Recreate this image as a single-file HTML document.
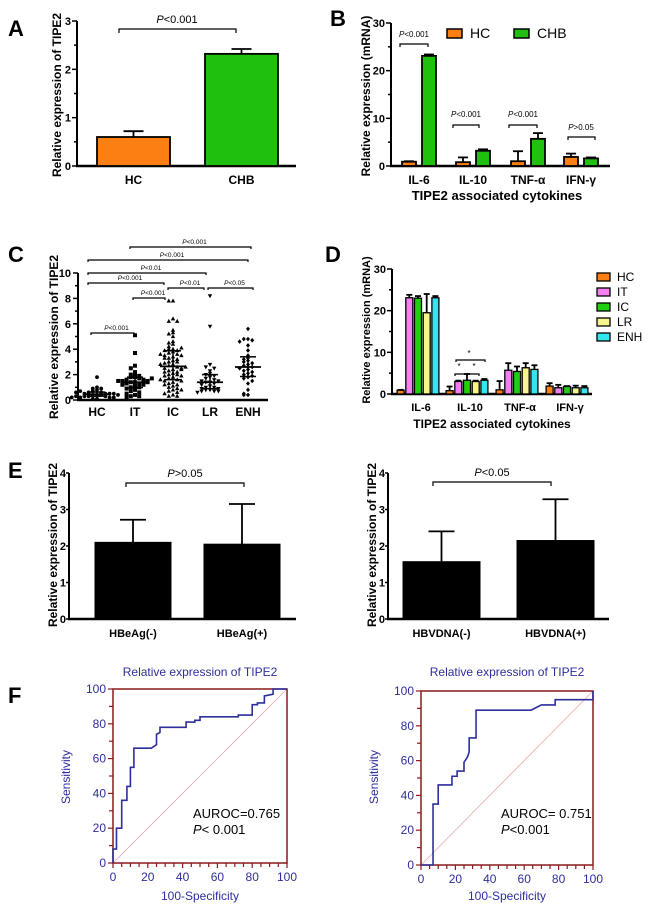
<!DOCTYPE html>
<html><head><meta charset="utf-8"><style>
html,body{margin:0;padding:0;background:#fff;}
svg{display:block;font-family:"Liberation Sans",Arial,sans-serif;}
</style></head><body>
<svg id="fig" width="650" height="908" viewBox="0 0 650 908" xmlns="http://www.w3.org/2000/svg"></svg>
<script>
// ---------- DATA ----------
const aCats = ["HC","CHB"];
const aVals = [0.6, 2.32];
const aErr = [0.72, 2.42];

const bCats = ["IL-6","IL-10","TNF-α","IFN-γ"];
const bHC = [0.9, 0.8, 1.0, 1.9];
const bHCErr = [1.0, 1.8, 3.1, 2.6];
const bCHB = [23.1, 3.2, 5.7, 1.6];
const bCHBErr = [23.4, 3.5, 6.9, 1.8];

const cCats = ["HC","IT","IC","LR","ENH"];
const cHC = [1.8,1.0,0.9,0.8,0.7,0.6,0.6,0.5,0.5,0.5,0.4,0.4,0.4,0.3,0.3,0.3,0.2,0.2,0.2,0.1,0.1,0.7,0.5,0.3,0.6,0.4,0.9,0.2];
const cIT = [5.1,3.7,2.7,2.5,2.0,2.0,1.9,1.8,1.8,1.7,1.6,1.6,1.5,1.5,1.4,1.4,1.3,1.3,1.2,1.2,1.1,1.0,1.0,0.9,0.8,0.7,0.6,0.5,0.4,0.3,0.3,0.2,1.5,1.7,1.4,2.2];
const cIC = [7.8,7.8,6.4,6.2,6.2,5.5,5.3,5.2,5.0,4.6,4.5,4.4,4.2,4.0,4.0,3.9,3.8,3.7,3.6,3.5,3.5,3.4,3.3,3.2,3.1,3.0,3.0,2.9,2.8,2.7,2.6,2.5,2.5,2.4,2.3,2.2,2.2,2.1,2.0,2.0,1.9,1.8,1.7,1.6,1.5,1.5,1.4,1.3,1.2,1.1,1.0,0.9,0.8,0.7,0.6,0.5,0.4,0.3,0.3,3.6,3.3,2.8,2.4,1.9,1.6,1.2,0.8,3.9,4.1,2.6];
const cLR = [8.2,5.8,2.8,2.6,2.5,2.3,2.1,2.0,1.9,1.8,1.7,1.6,1.5,1.5,1.4,1.4,1.3,1.2,1.1,1.0,1.0,0.9,0.9,0.8,0.8,0.7,0.7,0.7,0.6];
const cENH = [5.6,4.8,4.8,4.7,4.6,4.3,3.9,3.5,3.3,3.2,3.1,3.0,2.9,2.8,2.7,2.6,2.5,2.4,2.3,2.2,2.1,2.0,1.9,1.8,1.7,1.5,1.3,0.8,0.5,0.4,0.4];

const dCats = ["IL-6","IL-10","TNF-α","IFN-γ"];
const dSeries = ["HC","IT","IC","LR","ENH"];
const dHC = [0.9, 0.8, 1.0, 1.9];
const dIT = [23.1, 3.0, 5.7, 1.5];
const dIC = [23.0, 3.3, 5.4, 1.8];
const dLR = [19.5, 3.0, 6.3, 1.5];
const dENH = [23.1, 3.3, 5.9, 1.5];
const dHCErr = [1.0, 1.8, 3.1, 2.6];
const dITErr = [23.8, 3.2, 7.4, 2.2];
const dICErr = [23.5, 4.8, 6.6, 1.9];
const dLRErr = [24.0, 3.2, 7.4, 2.0];
const dENHErr = [23.5, 3.6, 6.9, 1.9];

const e1Cats = ["HBeAg(-)","HBeAg(+)"];
const e1Vals = [2.1, 2.05];
const e1Err = [2.72, 3.15];
const e2Cats = ["HBVDNA(-)","HBVDNA(+)"];
const e2Vals = [1.57, 2.15];
const e2Err = [2.4, 3.28];

const roc1X = [0,0,2,2,5,5,8,8,10,10,12,12,22,25,25,27,27,42,42,47,47,50,50,72,72,80,80,83,83,87,87,92,92,100];
const roc1Y = [0,8,8,20,20,36,36,44,44,55,55,66,66,68,74,75,78,78,81,81,82,82,84,84,85,85,91,91,92,92,96,97,100,100];
const roc2X = [0,7,7,10,10,18,18,21,21,25,25,27,28,28,32,32,64,70,78,78,100,100];
const roc2Y = [0,0,35,35,46,46,51,51,54,54,59,62,65,73,73,89,89,92,92,95,95,100];

// ---------- HELPERS ----------
const svg = document.getElementById('fig');
const NS = "http://www.w3.org/2000/svg";
function mk(tag, attrs, name){
  const el = document.createElementNS(NS, tag);
  for (const k in attrs) el.setAttribute(k, attrs[k]);
  
  
  svg.appendChild(el);
  return el;
}
function line(x1,y1,x2,y2,name,w,c){ return mk('line',{x1,y1,x2,y2,stroke:c||'#000','stroke-width':w||2},name); }
function rect(x,y,w,h,fill,name,sw){ return mk('rect',{x,y,width:w,height:h,fill,stroke:'#000','stroke-width':sw||1.8},name); }
function text(x,y,s,name,o){
  o=o||{};
  const t = mk('text',{x,y,'font-size':o.size||12,'font-weight':o.bold?'bold':'normal','text-anchor':o.anchor||'middle',fill:o.fill||'#000','font-style':o.italic?'italic':'normal'},name);
  if(o.rot) t.setAttribute('transform',`rotate(-90 ${x} ${y})`);
  t.textContent = s; return t;
}
function ptext(x,y,rest,name,size){
  const t = mk('text',{x,y,'font-size':size,'text-anchor':'middle'},name);
  const a=document.createElementNS(NS,'tspan'); a.setAttribute('font-style','italic'); a.textContent='P'; t.appendChild(a);
  const b=document.createElementNS(NS,'tspan'); b.textContent=rest; t.appendChild(b);
  return t;
}
function scale(y0,y1,max){ return v => y0 - v/max*(y0-y1); }
function bracket(x1,x2,y,name,drop){ drop=drop||4; mk('path',{d:`M${x1},${y+drop}V${y}H${x2}V${y+drop}`,fill:'none',stroke:'#000','stroke-width':1.2},name); }
function yAxis(x,ys,max,step,minor,xEnd,name,lblOff,tickLen){
  lblOff=lblOff||6; tickLen=tickLen||5;
  line(x,ys(0)+1,x,ys(max),name+'-y-axis',2);
  line(x-1,ys(0),xEnd,ys(0),name+'-x-axis',2.5);
  for(let v=0; v<=max+1e-9; v+=minor){
    const major = Math.abs(v/step-Math.round(v/step))<1e-6;
    line(x-(major?tickLen:tickLen-2),ys(v),x,ys(v),name+'-y-tick',1.5);
    if(major) text(x-lblOff,ys(v)+4,String(Math.round(v)),name+'-y-tick-label',{bold:true,size:11,anchor:'end'});
  }
}
function errBar(cx,yTop,yBar,w,name){ line(cx,yBar,cx,yTop,name,1.8); line(cx-w,yTop,cx+w,yTop,name,1.8); }

// ---------- PANEL A ----------
text(8,36,'A','panel-label-a',{bold:true,size:22,anchor:'start'});
const ya = scale(166,21,3);
yAxis(77,ya,3,1,0.5,296,'a');
const aX=[97,205];
aCats.forEach((c,i)=>{
  errBar(aX[i]+36.5,ya(aErr[i]),ya(aVals[i]),10,'a-error-bar');
  rect(aX[i],ya(aVals[i]),73,ya(0)-ya(aVals[i]),i==0?'#fb7f12':'#20c00e','a-bar-'+c.toLowerCase());
  text(aX[i]+36.5,184,c,'a-x-label',{bold:true,size:12});
});
bracket(119,236,29,'a-sig-bracket',4);
ptext(177,23,'<0.001','a-p-value',11);
text(61,95,'Relative expression of TIPE2','a-y-axis-title',{bold:true,size:12,rot:true});

// ---------- PANEL B ----------
text(330,26,'B','panel-label-b',{bold:true,size:22,anchor:'start'});
const yb = scale(166,23,30);
yAxis(391,yb,30,10,5,610,'b');
const bC=[419,473,528,581];
bCats.forEach((c,i)=>{
  errBar(bC[i]-10,yb(bHCErr[i]),yb(bHC[i]),5,'b-hc-error');
  rect(bC[i]-17,yb(bHC[i]),14,yb(0)-yb(bHC[i]),'#fb7f12','b-bar-hc');
  errBar(bC[i]+10,yb(bCHBErr[i]),yb(bCHB[i]),5,'b-chb-error');
  rect(bC[i]+3,yb(bCHB[i]),14,yb(0)-yb(bCHB[i]),'#20c00e','b-bar-chb');
  text(bC[i],184,c,'b-x-label',{bold:true,size:12});
});
text(497,200,'TIPE2 associated cytokines','b-x-axis-title',{bold:true,size:13});
text(370,96,'Relative expression (mRNA)','b-y-axis-title',{bold:true,size:12,rot:true});
rect(447,29,15,9,'#fb7f12','b-legend-hc-swatch',1.5);
text(470,38,'HC','b-legend-hc-label',{size:14,anchor:'start'});
rect(514,29,15,9,'#20c00e','b-legend-chb-swatch',1.5);
text(537,38,'CHB','b-legend-chb-label',{size:14,anchor:'start'});
bracket(400,428,44,'b-sig-il6',3); ptext(414,37,'<0.001','b-p-il6',8);
bracket(453,479,125,'b-sig-il10',3); ptext(466,117,'<0.001','b-p-il10',8);
bracket(509,537,125,'b-sig-tnf',3); ptext(523,117,'<0.001','b-p-tnf',8);
bracket(568,595,137,'b-sig-ifn',3); ptext(581,130,'>0.05','b-p-ifn',8);

// ---------- PANEL C ----------
text(8,262,'C','panel-label-c',{bold:true,size:22,anchor:'start'});
const yc = scale(400,273,10);
line(78,400,78,273,'c-y-axis',2); line(77,400,268,400,'c-x-axis',2.5);
for(let v=0;v<=10;v++){ const maj=v%2==0; line(maj?73:75,yc(v),78,yc(v),'c-y-tick',1.5); if(maj) text(71,yc(v)+4,String(v),'c-y-tick-label',{bold:true,size:11,anchor:'end'}); }
const cC=[97,135,173,210,248];
const cData=[cHC,cIT,cIC,cLR,cENH];
const cShapes=['circle','square','up','down','diamond'];
function marker(x,y,s,name){
  if(s==='circle') return mk('circle',{cx:x,cy:y,r:1.9,fill:'#000'},name);
  if(s==='square') return mk('rect',{x:x-2,y:y-2,width:4,height:4,fill:'#000'},name);
  if(s==='up') return mk('path',{d:`M${x},${y-2.4}L${x+2.2},${y+1.6}L${x-2.2},${y+1.6}Z`,fill:'#000'},name);
  if(s==='down') return mk('path',{d:`M${x},${y+2.4}L${x+2.2},${y-1.6}L${x-2.2},${y-1.6}Z`,fill:'#000'},name);
  return mk('path',{d:`M${x},${y-2.3}L${x+2},${y}L${x},${y+2.3}L${x-2},${y}Z`,fill:'#000'},name);
}
function quant(sorted,q){ const p=(sorted.length-1)*q, lo=Math.floor(p), hi=Math.ceil(p); return sorted[lo]+(sorted[hi]-sorted[lo])*(p-lo); }
cData.forEach((arr,g)=>{
  const bins={};
  arr.forEach(v=>{
    const b=Math.round(v*3); bins[b]=(bins[b]||0)+1; const k=bins[b]-1;
    const off=(k%2==0?1:-1)*Math.ceil(k/2)*4.2;
    marker(cC[g]+off,yc(v),cShapes[g],'c-point-'+cCats[g].toLowerCase());
  });
  const s=arr.slice().sort((a,b)=>a-b);
  const med=quant(s,0.5), q1=quant(s,0.25), q3=quant(s,0.75);
  line(cC[g]-13,yc(med),cC[g]+13,yc(med),'c-median-line',1.8);
  line(cC[g],yc(q1),cC[g],yc(q3),'c-iqr-line',1.5);
  line(cC[g]-8,yc(q3),cC[g]+8,yc(q3),'c-iqr-cap',1.5);
  line(cC[g]-8,yc(q1),cC[g]+8,yc(q1),'c-iqr-cap',1.5);
  text(cC[g],416,cCats[g],'c-x-label',{bold:true,size:12});
});
text(58,337,'Relative expression of TIPE2','c-y-axis-title',{bold:true,size:12,rot:true});
const cBr=[[130,251,247,'<0.001'],[88,248,260,'<0.001'],[88,206,273,'<0.01'],[88,164,283,'<0.001'],[168,204,288,'<0.01'],[208,253,288,'<0.05'],[133,165,298,'<0.001'],[91,134,333,'<0.001']];
cBr.forEach(b=>{ bracket(b[0],b[1],b[2],'c-sig-bracket',2); ptext((b[0]+b[1])/2+4,b[2]-3,b[3],'c-p-value',6.5); });

// ---------- PANEL D ----------
text(325,262,'D','panel-label-d',{bold:true,size:22,anchor:'start'});
const yd = scale(394,269,30);
yAxis(392,yd,30,10,5,592,'d');
const dC=[418,467,517,567];
const dVals=[dHC,dIT,dIC,dLR,dENH];
const dErrs=[dHCErr,dITErr,dICErr,dLRErr,dENHErr];
const dCol=['#fb7f12','#f47ff2','#20d00e','#f6f48a','#30e6f0'];
dCats.forEach((c,i)=>{
  dSeries.forEach((s,j)=>{
    const x=dC[i]+(j-2)*8.7-3.5;
    errBar(x+3.5,yd(dErrs[j][i]),yd(dVals[j][i]),3,'d-error-'+s.toLowerCase());
    rect(x,yd(dVals[j][i]),7,yd(0)-yd(dVals[j][i]),dCol[j],'d-bar-'+s.toLowerCase(),1.3);
  });
  text(dC[i]+3,411,c,'d-x-label',{bold:true,size:11});
});
text(492,428,'TIPE2 associated cytokines','d-x-axis-title',{bold:true,size:12});
text(370,330,'Relative expression (mRNA)','d-y-axis-title',{bold:true,size:11,rot:true});
dSeries.forEach((s,j)=>{
  rect(597,273+j*15,13,8,dCol[j],'d-legend-swatch-'+s.toLowerCase(),1.3);
  text(617,281+j*15,s,'d-legend-label-'+s.toLowerCase(),{size:12,anchor:'start'});
});
bracket(456,485,360,'d-sig-bracket',2); text(469,356,'*','d-sig-star',{size:8});
bracket(455,467,374,'d-sig-bracket',2); text(459,369,'*','d-sig-star',{size:8});
bracket(467,479,374,'d-sig-bracket',2); text(474,369,'*','d-sig-star',{size:8});

// ---------- PANEL E ----------
text(8,478,'E','panel-label-e',{bold:true,size:22,anchor:'start'});
const ye = scale(619,473,4);
function ePanel(ax,xEnd,cats,vals,errs,bx,bw,br,ptxt,name){
  yAxis(ax,ye,4,1,0.5,xEnd,name,3,3);
  cats.forEach((c,i)=>{
    errBar(bx[i]+bw/2,ye(errs[i]),ye(vals[i]),13,name+'-error-bar');
    rect(bx[i],ye(vals[i]),bw,ye(0)-ye(vals[i]),'#000',name+'-bar',1);
    text(bx[i]+bw/2,637,c,name+'-x-label',{bold:true,size:11});
  });
  bracket(br[0],br[1],br[2],name+'-sig-bracket',4);
  ptext((br[0]+br[1])/2,br[2]-6,ptxt,name+'-p-value',11);
  text(ax-12,545,'Relative expression of TIPE2',name+'-y-axis-title',{bold:true,size:12,rot:true});
}
ePanel(69,296,e1Cats,e1Vals,e1Err,[95,204],76,[126,244,483],'>0.05','e1');
ePanel(388,609,e2Cats,e2Vals,e2Err,[403,517],77,[433,551,482],'<0.05','e2');

// ---------- PANEL F ----------
text(8,703,'F','panel-label-f',{bold:true,size:22,anchor:'start'});
const navy='#2e2e9c', red='#8b1a1a';
function roc(x0,x1,y0,y1,xs,ys,name,auc,p){
  const sx=v=>x0+v/100*(x1-x0), sy=v=>y0-v/100*(y0-y1);
  text((x0+x1)/2,676,'Relative expression of TIPE2',name+'-title',{size:12,fill:navy});
  line(x0,y0,x1,y1,name+'-diagonal',0.8,'#e8a8a8');
  mk('rect',{x:x0,y:y1,width:x1-x0,height:y0-y1,fill:'none',stroke:red,'stroke-width':1.5},name+'-frame');
  for(let v=0;v<=100;v+=5){ line(sx(v),y0,sx(v),y0+(v%20==0?5:4),name+'-x-tick',1.2,red); if(v%20==0) text(sx(v),y0+18,String(v),name+'-x-tick-label',{size:12,fill:navy}); }
  for(let v=0;v<=100;v+=10){ line(x0-(v%20==0?5:4),sy(v),x0,sy(v),name+'-y-tick',1.2,red); if(v%20==0) text(x0-7,sy(v)+4,String(v),name+'-y-tick-label',{size:12,fill:navy,anchor:'end'}); }
  mk('polyline',{points:xs.map((x,i)=>sx(x)+','+sy(ys[i])).join(' '),fill:'none',stroke:navy,'stroke-width':1.6},name+'-roc-curve');
  text((x0+x1)/2,900,'100-Specificity',name+'-x-axis-title',{size:12,fill:navy});
  text(x0-43,777,'Sensitivity',name+'-y-axis-title',{size:12,fill:navy,rot:true});
  text(x0+80,818,auc,name+'-auroc',{size:13,anchor:'start'});
  const t=mk('text',{x:x0+80,y:834,'font-size':13},name+'-p-value');
  const a=document.createElementNS(NS,'tspan'); a.setAttribute('font-style','italic'); a.textContent='P'; t.appendChild(a);
  const b=document.createElementNS(NS,'tspan'); b.textContent=p; t.appendChild(b);
}
roc(113,287,863,689,roc1X,roc1Y,'f1','AUROC=0.765','< 0.001');
roc(421,593,865,691,roc2X,roc2Y,'f2','AUROC= 0.751','<0.001');
</script>
</body></html>
